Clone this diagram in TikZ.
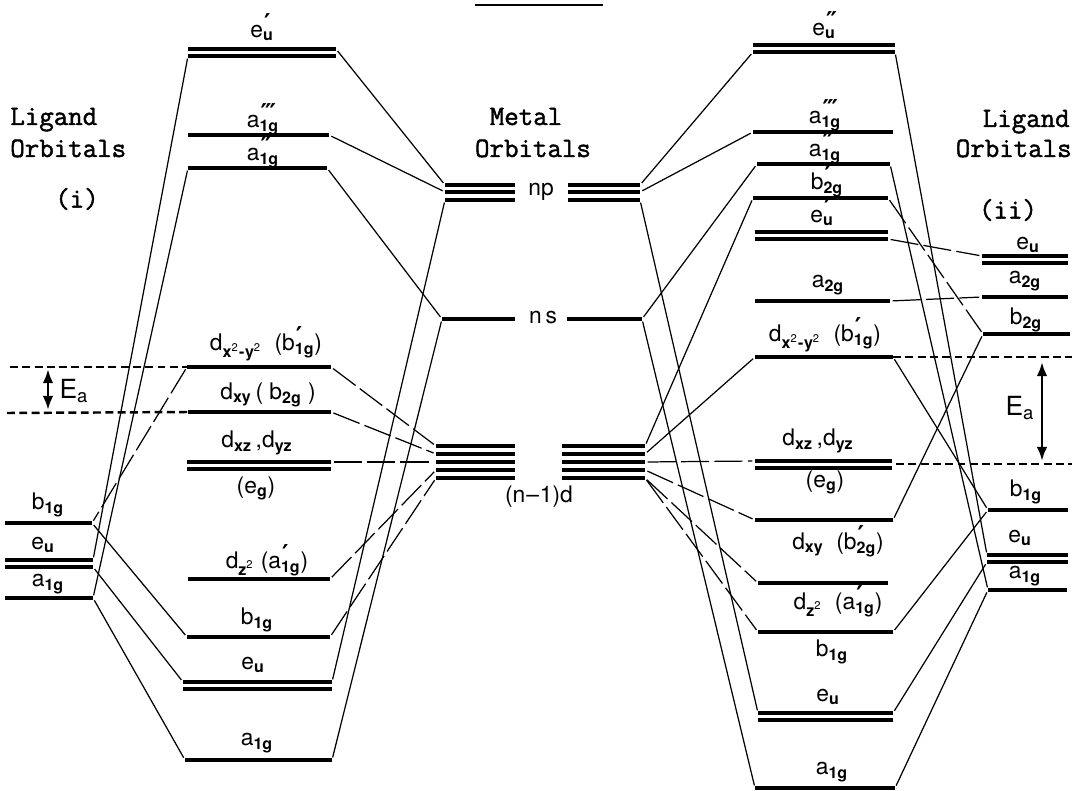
\documentclass[tikz,border=0pt]{standalone}
\usepackage{fontspec}
\setmainfont{TeX Gyre Heros}
\newfontfamily\primefont{DejaVu Sans}
\newfontfamily\tyfont[FakeBold=1.6]{Latin Modern Mono}
\usetikzlibrary{arrows.meta}

\newcommand{\orb}[3]{#1\rlap{\raisebox{.5ex}{\primefont\bfseries\fontsize{14}{14}\selectfont\kern.6pt#3}}\textsubscript{\bfseries#2}}
\newcommand{\dorb}[1]{d\textsubscript{\bfseries#1}}
\newcommand{\dsq}{d\textsubscript{\bfseries x\textsuperscript{\mdseries 2}\kern.3pt-\kern.3pt y\textsuperscript{\mdseries 2}}}
\newcommand{\lvl}[4]{\draw[lev] (#2,#4) coordinate (#1l) -- (#3,#4) coordinate (#1r);}
\newcommand{\dlvl}[4]{\lvl{#1}{#2}{#3}{#4}
  \draw[lev] (#2,#4+7) coordinate (#1bl) -- (#3,#4+7) coordinate (#1br);}

\tikzset{
  lev/.style={line width=2pt},
  link/.style={line width=0.7pt, shorten <=1.5pt, shorten >=1.5pt},
  brk/.style={link, dash pattern=on 16pt off 3pt},
  guide/.style={line width=1.4pt, dash pattern=on 4.5pt off 2.5pt},
  eaarr/.style={line width=1.5pt, {Latex[length=8pt,width=6pt]}-{Latex[length=8pt,width=6pt]}},
  lab/.style={font=\fontsize{13}{15}\selectfont, inner sep=0pt},
  ttl/.style={font=\tyfont\fontsize{16}{18}\selectfont, inner sep=0pt}
}

\begin{document}
\begin{tikzpicture}[x=0.02cm, y=-0.02cm]
\useasboundingbox (0,0) rectangle (1087,790);
\draw[line width=1.1pt] (475,5) -- (603,5);

% ligand orbitals (i)
\lvl{gB1g}{5}{92}{523}
\dlvl{gEu}{5}{93}{560}
\lvl{gA1g}{5}{93}{598}
\node[ttl, anchor=base west] (ligA) at (10,125) {Ligand};
\node[ttl, anchor=base west] (ligB) at (10,157) {Orbitals};
\node[ttl] (ligC) at (77,199) {(i)};
\node[lab] (tgB1g) at (48,505) {b\textsubscript{\bfseries 1g}};
\node[lab] (tgEu) at (43,545) {e\textsubscript{\bfseries u}};
\node[lab] (tgA1g) at (48,584) {a\textsubscript{\bfseries 1g}};

% molecular orbitals, left
\dlvl{lEuP}{188}{336}{49}
\lvl{lA1gT}{188}{329}{135}
\lvl{lA1gD}{188}{327}{168}
\lvl{lDx2}{187}{331}{367}
\lvl{lDxy}{188}{331}{412}
\dlvl{lDxz}{187}{331}{462}
\lvl{lDz2}{188}{330}{579}
\lvl{lB1g}{187}{330}{637}
\dlvl{lEu}{183}{332}{682}
\lvl{lA1g}{185}{332}{760}
\node[lab] (tlEuP) at (262,27) {\orb{e}{u}{′}};
\node[lab] (tlA1gT) at (263,119) {\orb{a}{1g}{‴}};
\node[lab] (tlA1gD) at (263,152) {\orb{a}{1g}{″}};
\node[lab] (tlDx2) at (266,344) {\dsq\ \ (\orb{b}{1g}{′})};
\node[lab] (tlDxy) at (268,395) {\dorb{xy}\,( b\textsubscript{\bfseries 2g} )};
\node[lab] (tlDxz) at (257,443) {\dorb{xz}\,,\dorb{yz}};
\node[lab] (tlEg) at (256,488) {(e\textsubscript{\bfseries g})};
\node[lab] (tlDz2) at (267,560) {d\textsubscript{\bfseries z\textsuperscript{\mdseries 2}}\ (\orb{a}{1g}{′})};
\node[lab] (tlB1g) at (257,620) {b\textsubscript{\bfseries 1g}};
\node[lab] (tlEu) at (253,665) {e\textsubscript{\bfseries u}};
\node[lab] (tlA1g) at (257,743) {a\textsubscript{\bfseries 1g}};

% activation gap, left
\coordinate (eaL1) at (10,367);
\coordinate (eaL2) at (7,413);
\draw[guide] (eaL1) -- (lDx2l);
\draw[guide] (eaL2) -- (lDxyl);
\coordinate (arL1) at (48,369);
\coordinate (arL2) at (48,410);
\draw[eaarr] (arL1) -- (arL2);
\node[lab, font=\fontsize{15}{17}\selectfont] (tEaL) at (74,391) {E\textsubscript{a}};

% metal orbitals
\node[ttl, anchor=base] (metA) at (526,125) {Metal};
\node[ttl, anchor=base] (metB) at (533,157) {Orbitals};
\foreach \k/\yy in {1/185,2/192,3/200} {
  \draw[lev] (445,\yy) coordinate (npL\k l) -- (515,\yy) coordinate (npL\k r);
  \draw[lev] (568,\yy) coordinate (npR\k l) -- (640,\yy) coordinate (npR\k r);
}
\lvl{nsL}{442}{515}{319}
\lvl{nsR}{567}{642}{319}
\foreach \k/\yy in {1/446,2/454,3/462,4/470,5/478} {
  \draw[lev] (436,\yy) coordinate (dL\k l) -- (515,\yy) coordinate (dL\k r);
  \draw[lev] (562,\yy) coordinate (dR\k l) -- (645,\yy) coordinate (dR\k r);
}
\node[lab] (tnp) at (541,192) {np};
\node[lab] (tns) at (543,318) {n\,s};
\node[lab] (tnd) at (539,497) {(n\kern.5pt--\kern.5pt1)d};

% molecular orbitals, right
\dlvl{rEuPP}{753}{895}{45}
\lvl{rA1gT}{753}{893}{132}
\lvl{rA1gD}{757}{890}{164}
\lvl{rB2g}{753}{888}{198}
\dlvl{rEuP}{755}{888}{232}
\lvl{rA2g}{755}{890}{301}
\lvl{rDx2}{755}{893}{357}
\dlvl{rDxz}{755}{892}{461}
\lvl{rDxy}{755}{893}{520}
\lvl{rDz2}{758}{888}{583}
\lvl{rB1g}{758}{893}{632}
\dlvl{rEu}{758}{893}{713}
\lvl{rA1g}{755}{895}{788}
\node[lab] (trEuPP) at (824,25) {\orb{e}{u}{″}};
\node[lab] (trA1gT) at (825,115) {\orb{a}{1g}{‴}};
\node[lab] (trA1gD) at (825,148) {\orb{a}{1g}{″}};
\node[lab] (trB2g) at (827,181) {\orb{b}{2g}{′}};
\node[lab] (trEuP) at (822,212) {\orb{e}{u}{′}};
\node[lab] (trA2g) at (828,285) {a\textsubscript{\bfseries 2g}};
\node[lab] (trDx2) at (825,335) {\dsq\ \ (\orb{b}{1g}{′})};
\node[lab] (trDxz) at (818,441) {\dorb{xz}\,,\dorb{yz}};
\node[lab] (trEg) at (825,482) {(e\textsubscript{\bfseries g})};
\node[lab] (trDxy) at (838,541) {\dorb{xy}\ \ (\orb{b}{2g}{′})};
\node[lab] (trDz2) at (838,601) {d\textsubscript{\bfseries z\textsuperscript{\mdseries 2}}\ \ (\orb{a}{1g}{′})};
\node[lab] (trB1g) at (832,652) {b\textsubscript{\bfseries 1g}};
\node[lab] (trEu) at (828,697) {e\textsubscript{\bfseries u}};
\node[lab] (trA1g) at (832,772) {a\textsubscript{\bfseries 1g}};

% ligand orbitals (ii)
\dlvl{hEu}{982}{1068}{256}
\lvl{hA2g}{982}{1068}{297}
\lvl{hB2g}{983}{1070}{334}
\lvl{hB1g}{988}{1068}{510}
\dlvl{hEu2}{987}{1068}{555}
\lvl{hA1g}{988}{1067}{590}
\node[ttl, anchor=base east] (ligD) at (1070,127) {Ligand};
\node[ttl, anchor=base east] (ligE) at (1072,157) {Orbitals};
\node[ttl] (ligF) at (1008,210) {(ii)};
\node[lab] (thEu) at (1028,245) {e\textsubscript{\bfseries u}};
\node[lab] (thA2g) at (1025,281) {a\textsubscript{\bfseries 2g}};
\node[lab] (thB2g) at (1026,320) {b\textsubscript{\bfseries 2g}};
\node[lab] (thB1g) at (1026,492) {b\textsubscript{\bfseries 1g}};
\node[lab] (thEu2) at (1020,538) {e\textsubscript{\bfseries u}};
\node[lab] (thA1g) at (1025,576) {a\textsubscript{\bfseries 1g}};

% activation gap, right
\coordinate (eaR1) at (1072,357);
\coordinate (eaR0) at (896,464);
\coordinate (eaR2) at (1072,464);
\draw[guide] (rDx2r) -- (eaR1);
\draw[guide] (eaR0) -- (eaR2);
\coordinate (arR1) at (1042,362);
\coordinate (arR2) at (1042,461);
\draw[eaarr] (arR1) -- (arR2);
\node[lab, font=\fontsize{15}{17}\selectfont] (tEaR) at (1020,408) {E\textsubscript{a}};

% correlation lines
\foreach \a/\b in {lEuPbl/gEur, lA1gDl/gA1gr, lB1gl/gB1gr, lEul/gEubr, lA1gl/gA1gr,
    lEuPr/npL1l, lA1gTr/npL2l, lA1gDr/nsLl, lEur/npL3l, lA1gr/nsLl,
    npR1r/rEuPPbl, npR2r/rA1gTl, npR3r/rEul, nsRr/rA1gDl, nsRr/rA1gl,
    dR1r/rB2gl, dR2r/rDx2l,
    rEuPPbr/hEu2l, rA1gDr/hA1gl, rDx2r/hB1gl, rDxyr/hB2gl, rB1gr/hB1gl,
    rEur/hEu2bl, rA1gr/hA1gl}
  \draw[link] (\a) -- (\b);
\foreach \a/\b in {lDx2l/gB1gr, lDx2r/dL1l, lDxyr/dL2l, lDxzr/dL3l, lDz2r/dL4l, lB1gr/dL5l,
    dR3r/rDxzl, dR4r/rDxyl, dR5r/rDz2l, dR5r/rB1gl,
    rB2gr/hB2gl, rEuPbr/hEul, rA2gr/hA2gl}
  \draw[brk] (\a) -- (\b);
\end{tikzpicture}
\end{document}
